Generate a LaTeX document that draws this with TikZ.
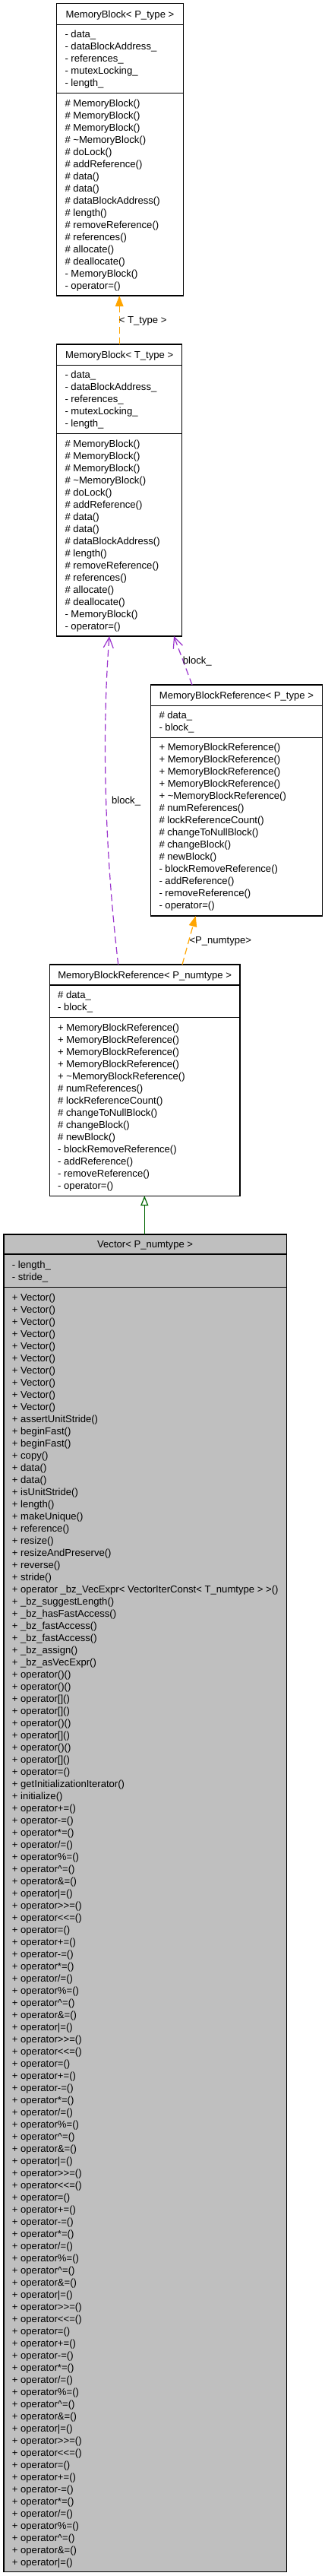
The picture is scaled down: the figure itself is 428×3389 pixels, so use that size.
\documentclass[tikz,border=0pt]{standalone}
\usepackage{fontspec}
\setmainfont{Liberation Sans}[Ligatures=TeXOff]
\usetikzlibrary{arrows.meta,calc}
\definecolor{doxorange}{HTML}{FFA500}
\definecolor{doxpurple}{HTML}{9A32CD}
\definecolor{doxgreen}{HTML}{006400}
\definecolor{doxgray}{HTML}{BFBFBF}
\tikzset{
  classbox/.style={draw=black, line width=1.3pt, fill=white, inner sep=0pt, outer sep=0pt, rectangle},
  vecbox/.style={classbox, fill=doxgray},
  sepline/.style={draw=black, line width=1.3pt},
  txt/.style={font=\fontsize{13.1}{16}\selectfont, inner sep=0pt, text=black},
  templ/.style={draw=doxorange, line width=1.2pt, dash pattern=on 9pt off 5pt, -{Triangle[length=14pt,width=10.5pt]}},
  usage/.style={draw=doxpurple, line width=1.2pt, dash pattern=on 9pt off 5pt, -{Straight Barb[length=14pt,width=13pt]}},
  inherit/.style={draw=doxgreen, line width=1.2pt, -{Triangle[open,length=12.7pt,width=10pt,fill=white]}},
}
% name, style, x0, top, x1, s1, s2, bottom, title
\newcommand\umlclass[9]{%
  \node[#2, anchor=north west, minimum width={#5-#3}, minimum height={#8-#4}] (#1) at (#3,#4) {};
  \draw[sepline] (#3,#6) -- (#5,#6);
  \draw[sepline] (#3,#7) -- (#5,#7);
  \node[txt, anchor=base] (#1-title) at ({(#3+#5)/2}, {(#4+#6)/2+4.6}) {#9};
}
% prefix, x, first baseline, list
\newcommand\umllines[4]{%
  \foreach \itm [count=\i from 0] in {#4} {\node[txt, anchor=base west] (#1-\i) at (#2, {#3+16*\i}) {\itm};}
}
\begin{document}
\begin{tikzpicture}[x=1pt,y=-1pt]
\useasboundingbox (0,0) rectangle (428,3389);

% MemoryBlock< P_type >
\umlclass{mbp}{classbox}{74.7}{4.7}{241.3}{32.3}{122.7}{389}{MemoryBlock< P\_type >}
\umllines{mbpa}{85.3}{49.5}{- data\_, - dataBlockAddress\_, - references\_, - mutexLocking\_, - length\_}
\umllines{mbpm}{85.3}{140}{\# MemoryBlock(), \# MemoryBlock(), \# MemoryBlock(), \# \textasciitilde{}MemoryBlock(), \# doLock(), \# addReference(), \# data(), \# data(), \# dataBlockAddress(), \# length(), \# removeReference(), \# references(), \# allocate(), \# deallocate(), - MemoryBlock(), - operator=()}

% MemoryBlock< T_type >
\umlclass{mbt}{classbox}{74.7}{453}{239.7}{480.3}{570.7}{837}{MemoryBlock< T\_type >}
\umllines{mbta}{85.3}{497.5}{- data\_, - dataBlockAddress\_, - references\_, - mutexLocking\_, - length\_}
\umllines{mbtm}{85.3}{588}{\# MemoryBlock(), \# MemoryBlock(), \# MemoryBlock(), \# \textasciitilde{}MemoryBlock(), \# doLock(), \# addReference(), \# data(), \# data(), \# dataBlockAddress(), \# length(), \# removeReference(), \# references(), \# allocate(), \# deallocate(), - MemoryBlock(), - operator=()}

% MemoryBlockReference< P_type >
\umlclass{mbrp}{classbox}{198.7}{901}{424.3}{928.3}{970.3}{1205}{MemoryBlockReference< P\_type >}
\umllines{mbrpa}{209.3}{945.5}{\# data\_, - block\_}
\umllines{mbrpm}{209.3}{987.5}{+ MemoryBlockReference(), + MemoryBlockReference(), + MemoryBlockReference(), + MemoryBlockReference(), + \textasciitilde{}MemoryBlockReference(), \# numReferences(), \# lockReferenceCount(), \# changeToNullBlock(), \# changeBlock(), \# newBlock(), - blockRemoveReference(), - addReference(), - removeReference(), - operator=()}

% MemoryBlockReference< P_numtype >
\umlclass{mbrn}{classbox}{65.3}{1269}{316}{1296}{1338.7}{1573.3}{MemoryBlockReference< P\_numtype >}
\umllines{mbrna}{76}{1313.2}{\# data\_, - block\_}
\umllines{mbrnm}{76}{1356}{+ MemoryBlockReference(), + MemoryBlockReference(), + MemoryBlockReference(), + MemoryBlockReference(), + \textasciitilde{}MemoryBlockReference(), \# numReferences(), \# lockReferenceCount(), \# changeToNullBlock(), \# changeBlock(), \# newBlock(), - blockRemoveReference(), - addReference(), - removeReference(), - operator=()}

% Vector< P_numtype >
\umlclass{vec}{vecbox}{5}{1624}{377.3}{1650}{1693.3}{3383.3}{Vector< P\_numtype >}
\umllines{veca}{15.7}{1668}{- length\_, - stride\_}
\umllines{vecm}{15.7}{1711.3}{+ Vector(), + Vector(), + Vector(), + Vector(), + Vector(), + Vector(), + Vector(), + Vector(), + Vector(), + Vector(),
 + assertUnitStride(), + beginFast(), + beginFast(), + copy(), + data(), + data(), + isUnitStride(), + length(), + makeUnique(), + reference(), + resize(), + resizeAndPreserve(), + reverse(), + stride(),
 + operator \_bz\_VecExpr< VectorIterConst< T\_numtype > >(), + \_bz\_suggestLength(), + \_bz\_hasFastAccess(), + \_bz\_fastAccess(), + \_bz\_fastAccess(), + \_bz\_assign(), + \_bz\_asVecExpr(),
 + operator()(), + operator()(), + operator[](), + operator[](), + operator()(), + operator[](), + operator()(), + operator[](), + operator=(), + getInitializationIterator(), + initialize(),
 + operator+=(), + operator-=(), + operator*=(), + operator/=(), + operator\%=(), + operator\textasciicircum{}=(), + operator\&=(), + operator|=(), + operator>>=(), + operator<<=(), + operator=(),
 + operator+=(), + operator-=(), + operator*=(), + operator/=(), + operator\%=(), + operator\textasciicircum{}=(), + operator\&=(), + operator|=(), + operator>>=(), + operator<<=(), + operator=(),
 + operator+=(), + operator-=(), + operator*=(), + operator/=(), + operator\%=(), + operator\textasciicircum{}=(), + operator\&=(), + operator|=(), + operator>>=(), + operator<<=(), + operator=(),
 + operator+=(), + operator-=(), + operator*=(), + operator/=(), + operator\%=(), + operator\textasciicircum{}=(), + operator\&=(), + operator|=(), + operator>>=(), + operator<<=(), + operator=(),
 + operator+=(), + operator-=(), + operator*=(), + operator/=(), + operator\%=(), + operator\textasciicircum{}=(), + operator\&=(), + operator|=(), + operator>>=(), + operator<<=(), + operator=(),
 + operator+=(), + operator-=(), + operator*=(), + operator/=(), + operator\%=(), + operator\textasciicircum{}=(), + operator\&=(), + operator|=()}

% connectors
\draw[templ] (mbt.north) -- (mbt.north |- mbp.south);
\node[txt, anchor=base west] (lblt) at (156.7,425) {< T\_type >};

\draw[usage] ($(mbrn.north west)+(90.4,0)$) .. controls (136,1100) and (135,950) .. ($(mbt.south west)+(69.3,0)$);
\node[txt, anchor=base west] (lblb1) at (147,1057) {block\_};

\draw[usage] ($(mbrp.north west)+(54.3,0)$) -- ($(mbt.south west)+(154.3,0)$);
\node[txt, anchor=base west] (lblb2) at (240.7,873) {block\_};

\draw[templ] ($(mbrn.north west)+(174.7,0)$) -- ($(mbrp.south west)+(59,0)$);
\node[txt, anchor=base west] (lblp) at (249.3,1241) {<P\_numtype>};

\draw[inherit] ($(vec.north west)+(185.3,0)$) -- ($(mbrn.south west)+(125,0)$);
\end{tikzpicture}
\end{document}
